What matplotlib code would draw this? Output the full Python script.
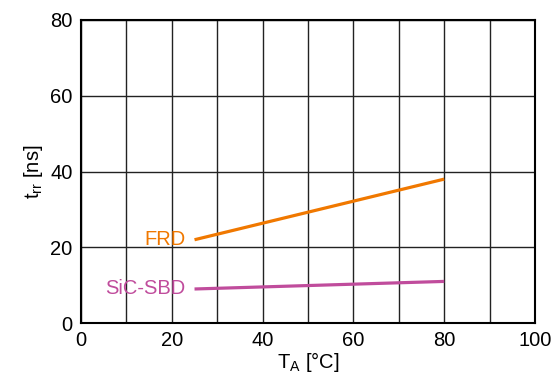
import matplotlib
matplotlib.use("Agg")
import matplotlib.pyplot as plt

plt.rcParams['font.family'] = ['Liberation Sans', 'DejaVu Sans']

temps = [25, 80]
frd = [22, 38]
sic = [9, 11]
series_names = ["FRD", "SiC-SBD"]
colors = ["#F07800", "#C04C9C"]

fig = plt.figure(figsize=(5.55, 3.77), dpi=100)
ax = fig.add_axes([0.146, 0.143, 0.818, 0.804])
ax.set_xlim(0, 100)
ax.set_ylim(0, 80)
ax.set_xticks(range(0, 101, 20))
ax.set_yticks(range(0, 81, 20))
ax.set_xticks(range(0, 101, 10), minor=True)
ax.grid(True, which='both', axis='x', color='#222222', linewidth=1)
ax.grid(True, which='major', axis='y', color='#222222', linewidth=1)
ax.tick_params(which='both', length=0, labelsize=14.5, pad=6)
for s in ax.spines.values():
    s.set_linewidth(1.5)
    s.set_color('black')

for vals, name, c in zip([frd, sic], series_names, colors):
    ax.plot(temps, vals, color=c, linewidth=2.3, solid_capstyle='butt')
    ax.text(temps[0] - 2, vals[0], name, color=c, fontsize=14.5, ha='right', va='center')

ax.set_xlabel("T$_\\mathregular{A}$ [°C]", fontsize=14.5, labelpad=0)
ax.set_ylabel("t$_\\mathregular{rr}$ [ns]", fontsize=14.5, labelpad=4)

fig.savefig("out.png", dpi=100)
